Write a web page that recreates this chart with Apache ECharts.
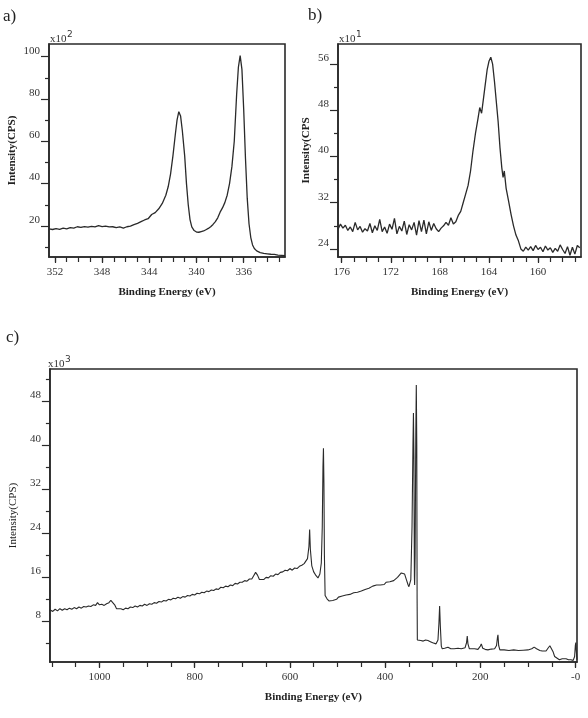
<!DOCTYPE html>
<html>
<head>
<meta charset="utf-8">
<script src="https://cdn.jsdelivr.net/npm/echarts@6.0.0/dist/echarts.min.js"></script>
<style>
  html, body { margin: 0; padding: 0; background: #fff; }
  #chart { width: 588px; height: 718px; }
</style>
</head>
<body>
<div id="chart"></div>
<script>
// a) Pd 3d region, intensity in x10^2 CPS
var aEnergy = [352.5, 352.2, 351.9, 351.6, 351.3, 351.0, 350.7, 350.4, 350.1, 349.8,
  349.5, 349.2, 348.9, 348.6, 348.3, 348.0, 347.7, 347.4, 347.1, 346.8,
  346.5, 346.2, 345.9, 345.6, 345.3, 345.0,
  344.7, 344.4, 344.1, 343.8, 343.5, 343.2, 342.9, 342.6,
  342.4, 342.2, 342.0, 341.8,
  341.65, 341.5, 341.35, 341.2,
  341.0, 340.85, 340.7, 340.55, 340.4,
  340.2, 340.0, 339.8, 339.6, 339.4, 339.2, 339.0, 338.8, 338.6, 338.4,
  338.2, 338.0, 337.8, 337.6, 337.4, 337.2, 337.0,
  336.8, 336.6,
  336.45, 336.3, 336.15, 336.0, 335.85, 335.7, 335.55, 335.4, 335.25, 335.1,
  334.9, 334.6, 334.3, 334.0, 333.7, 333.4, 333.1, 332.8, 332.5];
var aCounts = [18.6, 18.3, 18.7, 18.4, 18.9, 18.6, 19.2, 19.0, 19.6, 19.3,
  19.7, 19.4, 19.8, 19.5, 20.1, 19.7, 19.9, 19.5, 19.6, 19.2,
  19.5, 19.0, 19.6, 19.9, 20.6, 21.2,
  22.0, 22.8, 23.4, 25.4, 26.3, 28.1, 30.6, 34.5,
  38.5, 44.5, 53, 63,
  70, 74, 72, 65,
  53, 40, 30, 23, 19.5,
  17.8, 17.1, 17.0, 17.3, 17.6, 18.2, 18.8, 19.6, 20.7, 22.0,
  23.8, 26.5, 28.5, 31, 34.5, 40, 48,
  60, 82,
  95, 100.5, 94, 75, 52, 33, 21, 14.5, 11, 9.3,
  8.2, 7.4, 7.0, 6.8, 6.6, 6.5, 6.2, 6.1, 5.9];

// b) S 2p region, intensity in x10^1 CPS
var bEnergy = [176.3, 176.1, 175.9, 175.7, 175.5, 175.3, 175.1, 174.9, 174.7, 174.5,
  174.3, 174.1, 173.9, 173.7, 173.5, 173.3, 173.1, 172.9, 172.7, 172.5,
  172.3, 172.1, 171.9, 171.7, 171.5, 171.3, 171.1, 170.9, 170.7, 170.5,
  170.3, 170.1, 169.9, 169.7, 169.5, 169.3, 169.1, 168.9, 168.7, 168.5,
  168.3, 168.1, 167.9, 167.7, 167.5, 167.3, 167.1, 166.9, 166.7, 166.5,
  166.3, 166.1, 165.9, 165.7, 165.5, 165.3, 165.1, 164.9, 164.75, 164.6,
  164.45, 164.3, 164.15, 164.0, 163.85, 163.7, 163.55, 163.4, 163.25, 163.1,
  162.95, 162.85, 162.75, 162.6, 162.4, 162.2, 162.0, 161.8, 161.6, 161.4, 161.2,
  161.0, 160.8, 160.6, 160.4, 160.2, 160.0, 159.8, 159.6, 159.4, 159.2,
  159.0, 158.8, 158.6, 158.4, 158.2, 158.0, 157.8, 157.6, 157.4, 157.2,
  157.0, 156.8, 156.6];
var bCounts = [27.4, 28.3, 27.6, 28.1, 27.2, 27.8, 27.0, 28.6, 27.3, 27.9,
  26.9, 27.5, 27.1, 28.4, 26.8, 28.0, 27.2, 29.1, 27.0, 27.8,
  26.7, 28.3, 27.4, 29.3, 26.6, 27.9, 27.1, 28.8, 26.5, 28.2,
  27.3, 28.6, 26.4, 28.9, 27.0, 29.0, 26.6, 28.7, 27.2, 28.4,
  27.5, 27.0, 27.6, 28.0, 28.6, 28.1, 29.4, 28.3, 28.7, 29.8,
  30.5, 32.0, 33.5, 35.0, 37.5, 41.0, 44.0, 46.5, 48.5, 47.5,
  50.0, 52.5, 55.0, 56.5, 57.2, 56.0, 53.0, 49.5, 46.0, 41.5,
  38.0, 36.4, 37.5, 34.5, 32.3, 30.0, 28.0, 26.4, 25.4, 24.0, 23.6,
  24.3, 23.8, 24.4, 23.7, 24.6, 23.9, 24.3, 23.5, 24.5, 23.8,
  24.2, 23.4, 24.1, 23.6, 24.7, 23.9, 23.2, 24.4, 22.9, 24.3,
  23.1, 24.6, 24.2];

// c) survey, intensity in x10^3 CPS
var cEnergy = [1104, 1098, 1093, 1088, 1083, 1078, 1073, 1068, 1063, 1058,
  1053, 1048, 1043, 1038, 1033, 1028, 1023, 1018, 1013, 1008,
  1004, 1000, 995, 990, 985, 980, 976, 972, 968, 964,
  960, 955, 950, 945, 940, 935, 930, 925, 920, 915,
  910, 905, 900, 895, 890, 885, 880, 875, 870, 865,
  860, 855, 850, 845, 840, 835, 830, 825, 820, 815,
  810, 805, 800, 795, 790, 785, 780, 775, 770, 765,
  760, 755, 750, 745, 740, 735, 730, 725, 720, 715,
  710, 705, 700, 695, 690, 685, 680, 676, 672, 668,
  664, 660, 655, 650, 645, 640, 635, 630, 625, 620,
  615, 610, 605, 600, 595, 590, 585, 580, 575, 570,
  566, 563, 560, 558.5, 557, 554, 550, 545, 541, 537,
  534, 532, 530.5, 529.5, 528.5, 527.5, 526, 522, 518, 514,
  510, 506, 502, 498, 494, 490, 486, 482, 478, 474,
  470, 466, 462, 458, 454, 450, 446, 442, 438, 434,
  430, 426, 422, 418, 414, 410, 406, 402, 398, 394,
  390, 386, 382, 378, 374, 370, 366, 363, 359, 355,
  352, 350, 346, 343.5, 341.5, 340.5, 339.5, 338.5, 338, 337,
  335.5, 334.5, 333.5, 332.8, 332.3, 330, 325, 320, 315, 310,
  305, 300, 296, 293, 289, 287, 285.5, 284, 282, 280,
  275, 268, 262, 255, 247, 240, 232, 229, 227.5, 226,
  223, 219, 212, 205, 200, 198, 195, 190, 184, 177,
  170, 166, 164, 163, 161.5, 159, 150, 140, 130, 120,
  110, 100, 92, 87, 82, 75, 70, 62, 58, 54,
  51, 47, 44, 40, 34, 28, 24, 20, 15, 10,
  5, 2, 0.5, -0.5, -1.5, -3];
var cCounts = [10.0, 9.7, 10.1, 9.8, 10.2, 9.9, 10.2, 10.0, 10.3, 10.1,
  10.4, 10.2, 10.5, 10.3, 10.6, 10.5, 10.7, 10.6, 10.9, 10.8,
  11.3, 10.9, 11.0, 10.8, 11.1, 11.3, 11.7, 11.5, 10.9, 10.2,
  10.0, 10.2, 10.0, 10.3, 10.2, 10.5, 10.4, 10.7, 10.5, 10.8,
  10.7, 11.0, 10.8, 11.1, 11.0, 11.3, 11.2, 11.5, 11.4, 11.7,
  11.6, 11.9, 11.8, 12.1, 12.0, 12.3, 12.1, 12.4, 12.3, 12.6,
  12.5, 12.8, 12.7, 13.0, 12.9, 13.2, 13.1, 13.4, 13.3, 13.6,
  13.5, 13.8, 13.7, 14.1, 14.0, 14.3, 14.2, 14.5, 14.4, 14.8,
  14.7, 15.0, 15.0, 15.3, 15.2, 15.6, 15.6, 16.2, 16.8, 16.3,
  15.5, 15.7, 15.5, 15.9, 15.8, 16.2, 16.1, 16.5, 16.4, 16.8,
  16.9, 17.2, 17.1, 17.5, 17.2, 17.6, 17.5, 17.9, 18.1, 18.4,
  18.7, 19.3, 21.5, 24.6, 21.0, 18.0, 16.9, 16.2, 15.8, 16.5,
  18.5, 25, 36, 39.4, 33, 20, 12.6, 12.0, 11.6, 11.9,
  11.7, 12.0, 11.9, 12.3, 12.1, 12.5, 12.3, 12.7, 12.5, 12.8,
  12.7, 13.1, 12.9, 13.2, 13.0, 13.4, 13.3, 13.7, 13.5, 13.9,
  13.8, 14.3, 14.1, 14.5, 14.3, 14.5, 14.7, 14.6, 15.0, 14.9,
  15.1, 15.0, 15.3, 15.5, 15.9, 16.3, 16.7, 17.0, 16.5, 15.4,
  14.6, 14.2, 15.5, 25, 40, 45.8, 38, 16, 14.5, 20,
  42, 50.9, 40, 12, 4.5, 4.3, 4.4, 4.3, 4.5, 4.4,
  4.2, 4.0, 3.9, 3.8, 4.5, 7.5, 10.7, 7.0, 3.4, 2.9,
  3.0, 3.2, 2.9, 2.9, 3.0, 2.9, 3.1, 4.0, 5.2, 3.8,
  2.9, 2.85, 2.9, 2.8, 3.4, 3.8, 3.0, 2.8, 2.7, 2.85,
  2.9, 3.5, 5.0, 5.45, 3.5, 2.7, 2.7, 2.6, 2.7, 2.6,
  2.65, 2.7, 2.9, 3.2, 2.9, 2.6, 2.5, 2.5, 3.0, 3.45,
  3.3, 2.3, 1.5, 1.2, 0.9, 1.1, 1.4, 1.1, 0.9, 0.9,
  0.8, 1.5, 3.5, 4.05, 2.5, 0.9];

// tick labels and minor ticks
var aXLabels = [352, 348, 344, 340, 336];
var aXMinor = [352, 351, 350, 349, 348, 347, 346, 345, 344, 343, 342, 341, 340, 339, 338, 337, 336, 335, 334, 333];
var aYLabels = [20, 40, 60, 80, 100];
var aYMinor = [10, 30, 50, 70, 90];
var bXLabels = [176, 172, 168, 164, 160];
var bXMinor = [176, 175, 174, 173, 172, 171, 170, 169, 168, 167, 166, 165, 164, 163, 162, 161, 160, 159, 158, 157];
var bYLabels = [24, 32, 40, 48, 56];
var bYMinor = [28, 36, 44, 52];
var cXLabels = [1000, 800, 600, 400, 200, 0];
var cXMinor = [1100, 1050, 1000, 950, 900, 850, 800, 750, 700, 650, 600, 550, 500, 450, 400, 350, 300, 250, 200, 150, 100, 50, 0];
var cYLabels = [8, 16, 24, 32, 40, 48];
var cYMinor = [4, 12, 20, 28, 36, 44, 52];

var font = 'Liberation Serif';
var ink = '#2a2a2a';

var zip = function (xs, ys) {
  var out = [];
  for (var i = 0; i < xs.length; i++) out.push([xs[i], ys[i]]);
  return out;
};

// main x axis + overlay axis with short minor ticks
var xAxes = function (g, min, max, labels, minor, fmt) {
  return [{
    type: 'value', gridIndex: g, min: min, max: max, inverse: true, position: 'bottom',
    axisLine: { onZero: false, lineStyle: { color: ink, width: 1.6 } },
    axisTick: { customValues: labels, length: 6, lineStyle: { color: ink, width: 1.2 } },
    axisLabel: { customValues: labels, margin: 10, color: '#333', fontFamily: font, fontSize: 11, formatter: fmt },
    splitLine: { show: false },
    name: 'Binding Energy (eV)', nameLocation: 'middle', nameGap: 30,
    nameTextStyle: { fontFamily: font, fontWeight: 'bold', fontSize: 11, color: '#222' }
  }, {
    type: 'value', gridIndex: g, min: min, max: max, inverse: true, position: 'bottom',
    axisLine: { show: false, onZero: false },
    axisTick: { customValues: minor, length: 5, lineStyle: { color: ink, width: 1.2 } },
    axisLabel: { show: false },
    splitLine: { show: false }
  }];
};

var yAxes = function (g, min, max, labels, minor, name, gap, weight) {
  return [{
    type: 'value', gridIndex: g, min: min, max: max, position: 'left',
    axisLine: { onZero: false, lineStyle: { color: ink, width: 1.6 } },
    axisTick: { customValues: labels, length: 8, lineStyle: { color: ink, width: 1.2 } },
    axisLabel: { customValues: labels, margin: 9, color: '#333', fontFamily: font, fontSize: 11, verticalAlign: 'bottom', lineHeight: 12 },
    splitLine: { show: false },
    name: name, nameLocation: 'middle', nameGap: gap, nameRotate: 90,
    nameTextStyle: { fontFamily: font, fontWeight: weight, fontSize: 11, color: '#222' }
  }, {
    type: 'value', gridIndex: g, min: min, max: max, position: 'left',
    axisLine: { show: false, onZero: false },
    axisTick: { customValues: minor, length: 4, lineStyle: { color: ink, width: 1.2 } },
    axisLabel: { show: false },
    splitLine: { show: false }
  }];
};

// x10^n note above each frame
var power = function (x, y, exp) {
  return [
    { type: 'text', x: x, y: y, style: { text: 'x10', font: '11px "Liberation Serif"', fill: '#333', verticalAlign: 'bottom' } },
    { type: 'text', x: x + 17, y: y - 6, style: { text: exp, font: '9px "DejaVu Sans"', fill: '#333', verticalAlign: 'bottom' } }
  ];
};

var panelTag = function (x, y, text) {
  return { type: 'text', x: x, y: y, style: { text: text, font: '17px "Liberation Serif"', fill: '#222', verticalAlign: 'middle' } };
};

var lineSeries = function (idx, data, width) {
  return {
    type: 'line', xAxisIndex: idx, yAxisIndex: idx, data: data,
    showSymbol: false, silent: true, animation: false,
    lineStyle: { color: ink, width: width }
  };
};

var chart = echarts.init(document.getElementById('chart'), null, { renderer: 'canvas' });

var option = {
  backgroundColor: '#fff',
  animation: false,
  grid: [
    { left: 49, top: 44, width: 236, height: 213, show: true, borderColor: ink, borderWidth: 1.6, backgroundColor: 'transparent' },
    { left: 338, top: 44, width: 243, height: 213, show: true, borderColor: ink, borderWidth: 1.6, backgroundColor: 'transparent' },
    { left: 47, top: 369, width: 530, height: 293, show: true, borderColor: ink, borderWidth: 1.6, backgroundColor: 'transparent' }
  ],
  xAxis: [].concat(
    xAxes(0, 332.5, 352.5, aXLabels, aXMinor),
    xAxes(1, 156.5, 176.3, bXLabels, bXMinor),
    xAxes(2, -3, 1104, cXLabels, cXMinor, function (v) { return v === 0 ? '-0' : String(v); })
  ),
  yAxis: [].concat(
    yAxes(0, 5.3, 106, aYLabels, aYMinor, 'Intensity(CPS)', 31, 'bold'),
    yAxes(1, 22.6, 59.5, bYLabels, bYMinor, 'Intensity(CPS', 26, 'bold'),
    yAxes(2, 0.5, 53.8, cYLabels, cYMinor, 'Intensity(CPS)', 23, 'normal')
  ),
  series: [
    lineSeries(0, zip(aEnergy, aCounts), 1.3),
    lineSeries(2, zip(bEnergy, bCounts), 1.3),
    lineSeries(4, zip(cEnergy, cCounts), 1.1)
  ],
  graphic: [].concat(
    [panelTag(3, 17, 'a)'), panelTag(308, 16, 'b)'), panelTag(6, 338, 'c)')],
    power(50, 45, '2'),
    power(339, 45, '1'),
    power(48, 370, '3')
  )
};

chart.setOption(option);
</script>
</body>
</html>
